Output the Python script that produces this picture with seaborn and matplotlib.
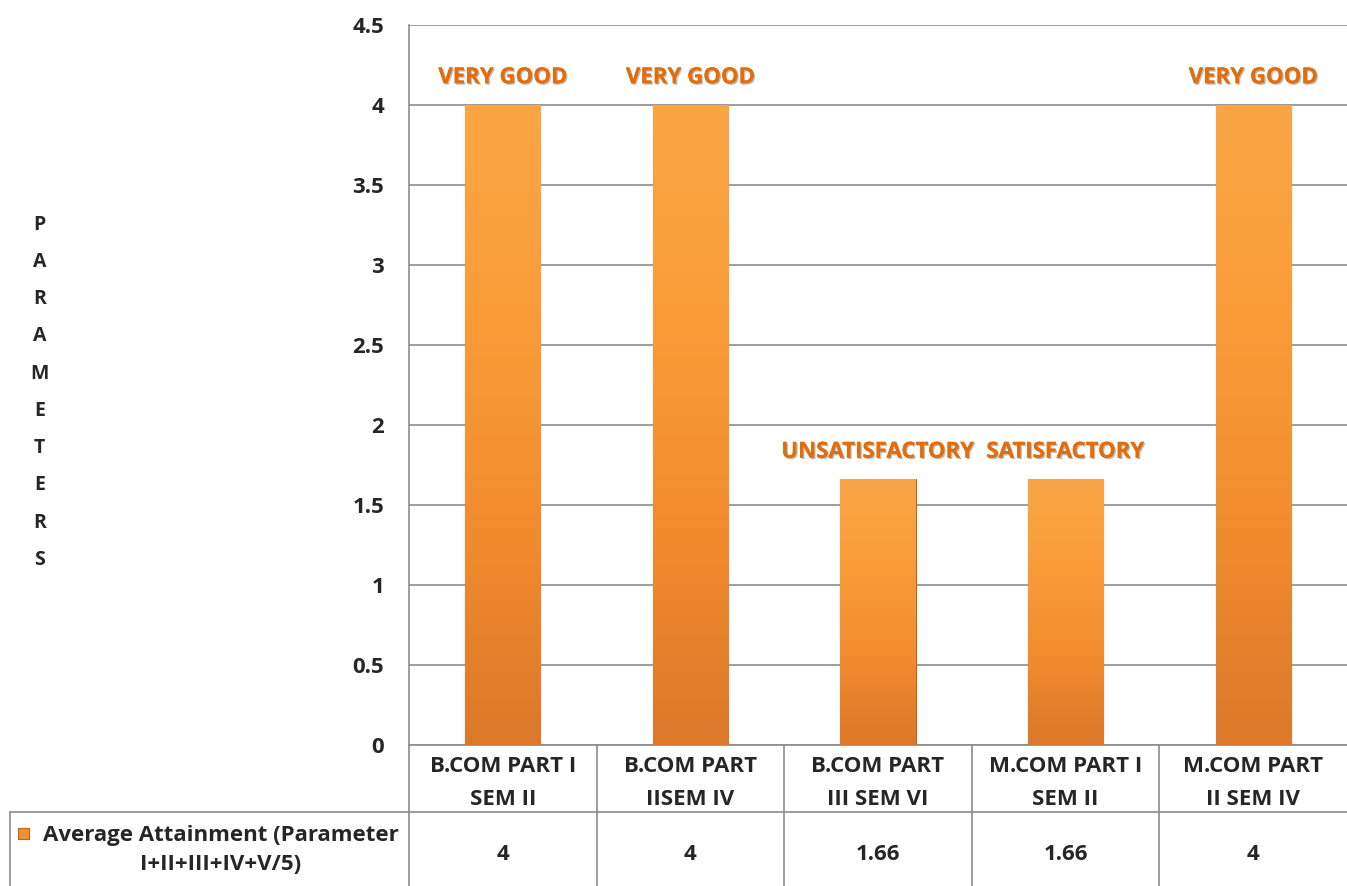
import numpy as np
import matplotlib
matplotlib.use("Agg")
import matplotlib.pyplot as plt
import matplotlib.patheffects as pe
import seaborn as sns
import pandas as pd

# data
categories = ["B.COM PART I\nSEM II", "B.COM PART\nIISEM IV", "B.COM PART\nIII SEM VI",
              "M.COM PART I\nSEM II", "M.COM PART\nII SEM IV"]
values = [4, 4, 1.66, 1.66, 4]
value_text = ["4", "4", "1.66", "1.66", "4"]
grades = ["VERY GOOD", "VERY GOOD", "UNSATISFACTORY", "SATISFACTORY", "VERY GOOD"]
series_name = "Average Attainment (Parameter\nI+II+III+IV+V/5)"
y_ticks = [0, 0.5, 1, 1.5, 2, 2.5, 3, 3.5, 4, 4.5]

sns.set_style("white")
plt.rcParams['font.family'] = ['Open Sans', 'DejaVu Sans']
plt.rcParams['font.weight'] = 'bold'

df = pd.DataFrame({"cat": categories, "val": values})

fig = plt.figure(figsize=(13.47, 8.86), dpi=100)
ax = fig.add_axes([409 / 1347, 1 - 745 / 886, 938 / 1347, 720 / 886])

sns.barplot(data=df, x="cat", y="val", color="#F7962F", width=0.4,
            edgecolor="#B9651F", linewidth=0.8, ax=ax, zorder=3)

# vertical gradient on each bar
grad = np.linspace(0, 1, 256).reshape(-1, 1)
cmap = matplotlib.colors.LinearSegmentedColormap.from_list(
    "bar", ["#DC782A", "#F18C2E", "#F99C38", "#FAA646"])
for p in ax.patches:
    x0, y0 = p.get_x(), p.get_y()
    w, h = p.get_width(), p.get_height()
    im = ax.imshow(grad, extent=[x0, x0 + w, y0, y0 + h], origin="lower",
                   aspect="auto", cmap=cmap, zorder=3.5)
    im.set_clip_path(p)

ax.set_xlim(-0.5, 4.5)
ax.set_ylim(0, 4.5)
ax.set_yticks(y_ticks)
ax.set_yticklabels([f"{t:g}" for t in y_ticks], fontsize=16, fontweight="bold")
ax.tick_params(axis="y", length=0, pad=18)
ax.tick_params(axis="x", length=0, pad=8, labelsize=16)
for lab in ax.get_xticklabels():
    lab.set_fontweight("bold")
    lab.set_linespacing(1.75)
ax.set_xlabel("")
ax.set_ylabel("\n".join("PARAMETERS"), rotation=0, fontsize=14, fontweight="bold",
              linespacing=2.15, va="center", ha="center")
ax.yaxis.set_label_coords(-0.394, 0.49)

ax.grid(axis="y", color="#8C8C8C", linewidth=1.2, zorder=0)
for s in ["top", "right", "bottom"]:
    ax.spines[s].set_visible(False)
ax.spines["left"].set_color("#8C8C8C")
ax.spines["left"].set_linewidth(1.2)

# grade labels above bars
shadow = [pe.withSimplePatchShadow(offset=(1, -1), shadow_rgbFace="#7F7F7F", alpha=0.5),
          pe.Normal()]
for i, (v, g) in enumerate(zip(values, grades)):
    ax.text(i, v + 0.17, g, ha="center", va="center", fontsize=16,
            fontweight="bold", color="#E46C0A", path_effects=shadow, zorder=5)

# data table below the axes
line_kw = dict(color="#8C8C8C", linewidth=1.2, clip_on=False, zorder=1)
row1 = -67 / 720
row2 = -141 / 720
x_left = (10 - 409) / 938
ax.plot([0, 1], [0, 0], transform=ax.transAxes, **line_kw)
ax.plot([x_left, 1], [row1, row1], transform=ax.transAxes, **line_kw)
ax.plot([0, 0], [0, row2], transform=ax.transAxes, **line_kw)
ax.plot([x_left, x_left], [row1, row2], transform=ax.transAxes, **line_kw)
tr = matplotlib.transforms.blended_transform_factory(ax.transData, ax.transAxes)
for k in range(1, len(categories)):
    ax.plot([k - 0.5, k - 0.5], [0, row2], transform=tr, **line_kw)
for i, t in enumerate(value_text):
    ax.text(i, -110 / 720, t, transform=tr, ha="center", va="center",
            fontsize=16, fontweight="bold")

cell_mid = (x_left + 0) / 2
ax.text(cell_mid + 0.012, -105 / 720, series_name, transform=ax.transAxes,
        ha="center", va="center", fontsize=16, fontweight="bold",
        multialignment="center", linespacing=1.5)
ax.add_patch(matplotlib.patches.Rectangle((x_left + 8 / 938, -94 / 720),
             11 / 938, 11 / 720, transform=ax.transAxes, clip_on=False,
             facecolor="#F0902E", edgecolor="#B9651F", linewidth=0.8))

fig.savefig("out.png", dpi=100)
